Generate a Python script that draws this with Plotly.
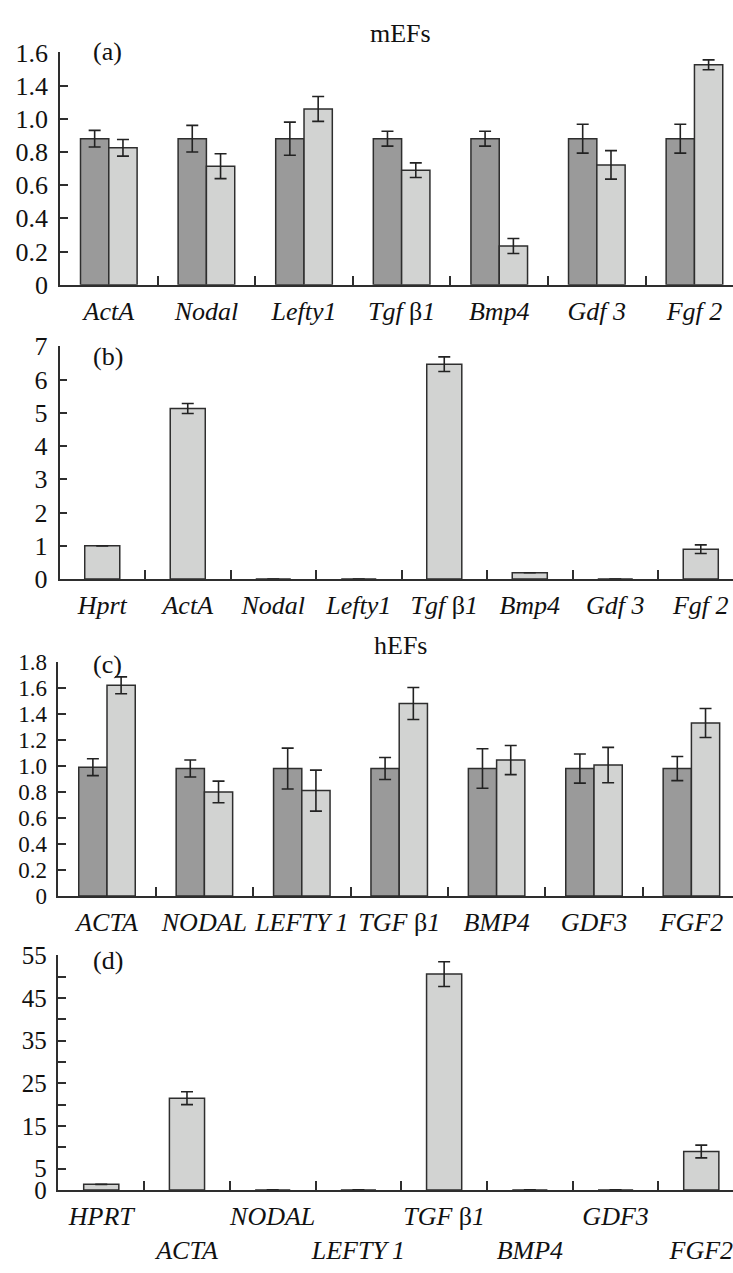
import plotly.graph_objects as go

W, H = 733, 1273

# ---------------- data ----------------
# (a) mEFs, relative expression (positional units of the drawn axis)
genes_a = ["ActA", "Nodal", "Lefty1", "Tgfb1", "Bmp4", "Gdf3", "Fgf2"]
labels_a = ["<i>ActA</i>", "<i>Nodal</i>", "<i>Lefty1</i>", "<i>Tgf </i>β<i>1</i>",
            "<i>Bmp4</i>", "<i>Gdf 3</i>", "<i>Fgf 2</i>"]
a_dark = [0.88, 0.88, 0.88, 0.88, 0.88, 0.88, 0.88]
a_dark_err = [0.05, 0.08, 0.10, 0.045, 0.045, 0.087, 0.087]
a_light = [0.825, 0.714, 1.059, 0.690, 0.233, 0.722, 1.325]
a_light_err = [0.05, 0.075, 0.075, 0.044, 0.045, 0.086, 0.03]
a_ytickvals = [0, 0.2, 0.4, 0.6, 0.8, 1.0, 1.2, 1.4]
a_yticktext = ["0", "0.2", "0.4", "0.6", "0.8", "1.0", "1.4", "1.6"]

# (b) mEFs relative to Hprt
genes_b = ["Hprt", "ActA", "Nodal", "Lefty1", "Tgfb1", "Bmp4", "Gdf3", "Fgf2"]
labels_b = ["<i>Hprt</i>", "<i>ActA</i>", "<i>Nodal</i>", "<i>Lefty1</i>",
            "<i>Tgf </i>β<i>1</i>", "<i>Bmp4</i>", "<i>Gdf 3</i>", "<i>Fgf 2</i>"]
b_vals = [1.0, 5.13, 0, 0, 6.46, 0.19, 0, 0.90]
b_err = [None, 0.15, None, None, 0.22, None, None, 0.13]
b_ytickvals = [0, 1, 2, 3, 4, 5, 6, 7]

# (c) hEFs
genes_c = ["ACTA", "NODAL", "LEFTY1", "TGFb1", "BMP4", "GDF3", "FGF2"]
labels_c = ["<i>ACTA</i>", "<i>NODAL</i>", "<i>LEFTY\u20091</i>", "<i>TGF </i>β<i>1</i>",
            "<i>BMP4</i>", "<i>GDF3</i>", "<i>FGF2</i>"]
c_dark = [0.99, 0.98, 0.98, 0.98, 0.98, 0.98, 0.98]
c_dark_err = [0.065, 0.065, 0.157, 0.085, 0.152, 0.112, 0.093]
c_light = [1.62, 0.80, 0.81, 1.48, 1.045, 1.007, 1.33]
c_light_err = [0.065, 0.083, 0.158, 0.123, 0.112, 0.136, 0.112]
c_ytickvals = [0, 0.2, 0.4, 0.6, 0.8, 1.0, 1.2, 1.4, 1.6, 1.8]
c_yticktext = ["0", "0.2", "0.4", "0.6", "0.8", "1.0", "1.2", "1.4", "1.6", "1.8"]

# (d) hEFs relative to HPRT
genes_d = ["HPRT", "ACTA", "NODAL", "LEFTY1", "TGFb1", "BMP4", "GDF3", "FGF2"]
labels_d = ["<i>HPRT</i>", "<br><i>ACTA</i>", "<i>NODAL</i>", "<br><i>LEFTY\u20091</i>",
            "<i>TGF </i>β<i>1</i>", "<br><i>BMP4</i>", "<i>GDF3</i>", "<br><i>FGF2</i>"]
d_vals = [1.3, 21.5, 0, 0, 50.6, 0, 0, 9.0]
d_err = [None, 1.5, None, None, 2.9, None, None, 1.5]
d_ytickvals = [0, 5, 10, 15, 20, 25, 30, 35, 40, 45, 50, 55]
d_yticktext = ["0", "5", "", "15", "", "25", "", "35", "", "45", "", "55"]

# ---------------- styling ----------------
FONT = "Liberation Serif"
DARK = "#9a9a9a"
LIGHT = "#d2d3d2"
EDGE = "#2e2e2e"
TXT = "#111111"
FS = 26

fig = go.Figure()


def err(vals):
    return dict(type="data", array=vals, visible=True, color="#222222",
                thickness=1.6, width=6)


def add_pair(xname, yname, genes, dark, dark_e, light, light_e):
    fig.add_trace(go.Bar(x=genes, y=dark, error_y=err(dark_e), width=0.29, offset=-0.29,
                         marker=dict(color=DARK, line=dict(color=EDGE, width=1.5)),
                         xaxis=xname, yaxis=yname, showlegend=False))
    fig.add_trace(go.Bar(x=genes, y=light, error_y=err(light_e), width=0.29, offset=0.0,
                         marker=dict(color=LIGHT, line=dict(color=EDGE, width=1.5)),
                         xaxis=xname, yaxis=yname, showlegend=False))


def add_single(xname, yname, genes, vals, e):
    fig.add_trace(go.Bar(x=genes, y=vals, error_y=err(e), width=0.41, offset=-0.205,
                         marker=dict(color=LIGHT, line=dict(color=EDGE, width=1.5)),
                         xaxis=xname, yaxis=yname, showlegend=False))


add_pair("x", "y", genes_a, a_dark, a_dark_err, a_light, a_light_err)
add_single("x2", "y2", genes_b, b_vals, b_err)
add_pair("x3", "y3", genes_c, c_dark, c_dark_err, c_light, c_light_err)
add_single("x4", "y4", genes_d, d_vals, d_err)


def py(p):
    return 1 - p / H


def xax(genes, labels, left_px, xmax, anchor):
    return dict(type="category", categoryorder="array", categoryarray=genes,
                tickmode="array", tickvals=genes, ticktext=labels,
                tickson="boundaries", ticks="inside", ticklen=9, tickwidth=1.5,
                tickcolor=EDGE, showline=True, linecolor=EDGE, linewidth=1.5,
                showgrid=False, zeroline=False, tickangle=0,
                tickfont=dict(family=FONT, size=FS, color=TXT),
                ticklabelstandoff=2,
                domain=[left_px / W, 1.0], range=[-0.5, xmax], anchor=anchor,
                fixedrange=True)


def yax(top_px, bot_px, rng, tv, tt, anchor, fs=FS):
    return dict(range=rng, domain=[py(bot_px), py(top_px)], tickmode="array",
                tickvals=tv, ticktext=tt, ticks="inside", ticklen=8, tickwidth=1.5,
                tickcolor=EDGE, showline=True, linecolor=EDGE, linewidth=1.5,
                showgrid=False, zeroline=False,
                tickfont=dict(family=FONT, size=fs, color=TXT),
                ticklabelstandoff=5, anchor=anchor, fixedrange=True)


fig.update_layout(
    width=W, height=H,
    margin=dict(l=0, r=0, t=0, b=0),
    paper_bgcolor="white", plot_bgcolor="white",
    barmode="overlay",
    font=dict(family=FONT, size=FS, color=TXT),
    xaxis=xax(genes_a, labels_a, 60, 6.395, "y"),
    yaxis=yax(39.3, 277, [0, 1.4], a_ytickvals, a_yticktext, "x"),
    xaxis2=xax(genes_b, labels_b, 59.5, 7.377, "y2"),
    yaxis2=yax(340, 578.3, [0, 7], b_ytickvals, [str(v) for v in b_ytickvals], "x2"),
    xaxis3=xax(genes_c, labels_c, 58.3, 6.427, "y3"),
    yaxis3=yax(663, 902.5, [0, 1.8], c_ytickvals, c_yticktext, "x3", fs=23),
    xaxis4=xax(genes_d, labels_d, 58.4, 7.37, "y4"),
    yaxis4=yax(963.3, 1203.3, [0, 55], d_ytickvals, d_yticktext, "x4", fs=25),
)

annots = [
    ("(a)", 108, 38), ("(b)", 108, 350), ("(c)", 108, 666), ("(d)", 108, 969),
    ("mEFs", 400, 20), ("hEFs", 400, 646),
]
for txt, xp, yp in annots:
    fig.add_annotation(text=txt, x=xp / W, y=py(yp), xref="paper", yref="paper",
                       xanchor="center", yanchor="middle", showarrow=False,
                       font=dict(family=FONT, size=FS, color=TXT))

pin = ("document.body.style.margin='0';document.body.style.padding='0';"
       "var g=document.getElementById('{plot_id}');"
       "g.style.position='fixed';g.style.left='0px';g.style.top='0px';")
fig.write_html("out.html", post_script=pin, config={"displayModeBar": False})
